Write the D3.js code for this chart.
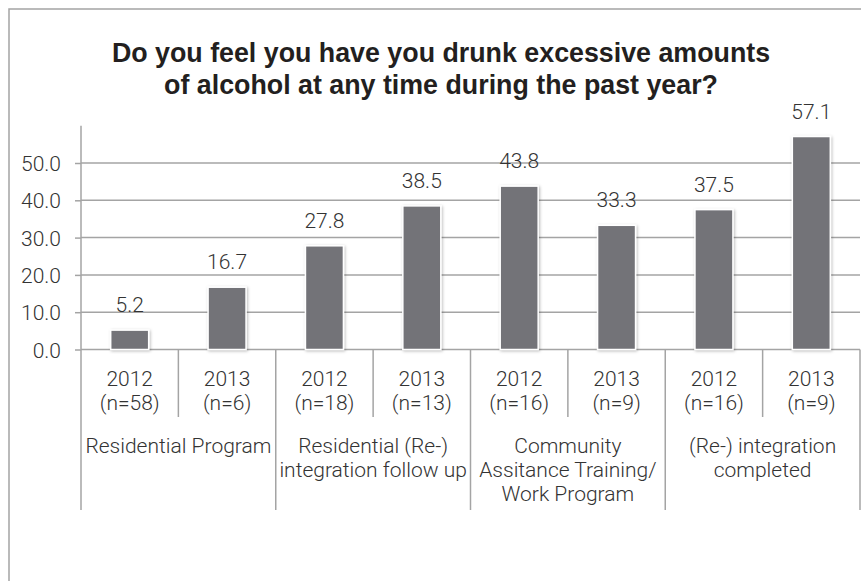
<!DOCTYPE html>
<html>
<head>
<meta charset="utf-8">
<script src="https://cdn.jsdelivr.net/npm/d3@7"></script>
<style>
  body { margin: 0; background: #fff; }
  svg { display: block; }
</style>
</head>
<body>
<script>
// Share of respondents (%) per programme and survey year
const years = ["2012", "2013", "2012", "2013", "2012", "2013", "2012", "2013"];
const sampleSizes = ["(n=58)", "(n=6)", "(n=18)", "(n=13)", "(n=16)", "(n=9)", "(n=16)", "(n=9)"];
const values = [5.2, 16.7, 27.8, 38.5, 43.8, 33.3, 37.5, 57.1];
const groupLabels = [
  ["Residential Program"],
  ["Residential (Re-)", "integration follow up"],
  ["Community", "Assitance Training/", "Work Program"],
  ["(Re-) integration", "completed"]
];
const yTicks = [0, 10, 20, 30, 40, 50];
const titleLines = [
  "Do you feel you have you drunk excessive amounts",
  "of alcohol at any time during the past year?"
];

const W = 861, H = 581;
const plotLeft = 81, plotRight = 860;
const lightFont = "Roboto, 'Liberation Sans', Arial, sans-serif";
const textColor = "#333";
const lineColor = "#a4a4a4";

const svg = d3.select("body").append("svg")
  .attr("width", W).attr("height", H);

const defs = svg.append("defs");
defs.append("filter")
  .attr("id", "barShadow")
  .attr("x", "-40%").attr("y", "-20%").attr("width", "180%").attr("height", "140%")
  .append("feDropShadow")
  .attr("dx", 1).attr("dy", 1).attr("stdDeviation", 1.6)
  .attr("flood-color", "#000").attr("flood-opacity", 0.28);

// chart frame (runs past the page edges on the right and bottom)
svg.append("rect")
  .attr("x", 9).attr("y", 9).attr("width", 900).attr("height", 620)
  .attr("fill", "none").attr("stroke", lineColor).attr("stroke-width", 1.5);

// title
svg.append("text")
  .attr("x", 441).attr("y", 62)
  .attr("text-anchor", "middle")
  .attr("font-family", "'Liberation Sans', Arial, sans-serif")
  .attr("font-weight", "bold")
  .attr("font-size", 26.8)
  .attr("fill", "#231f20")
  .selectAll("tspan").data(titleLines).join("tspan")
  .attr("x", 441).attr("dy", (d, i) => i === 0 ? 0 : 32)
  .text(d => d);

// scales
const y = d3.scaleLinear().domain([0, 60]).range([349.5, 125.7]);
const cells = d3.scaleBand().domain(d3.range(values.length)).range([plotLeft, plotRight]).padding(0);
const bars = d3.scaleBand().domain(d3.range(values.length)).range([plotLeft, plotRight])
  .paddingInner(0.61).paddingOuter(0.305);

// horizontal gridlines
svg.append("g").selectAll("line").data(yTicks).join("line")
  .attr("x1", plotLeft).attr("x2", plotRight)
  .attr("y1", d => y(d)).attr("y2", d => y(d))
  .attr("stroke", lineColor).attr("stroke-width", 1.5);

// value axis
const yAxis = d3.axisLeft(y).tickValues(yTicks).tickSize(6).tickPadding(14)
  .tickFormat(d3.format(".1f"));
const yg = svg.append("g").attr("transform", `translate(${plotLeft},0)`).call(yAxis);
yg.select(".domain").attr("stroke", lineColor).attr("stroke-width", 1.5)
  .attr("d", `M0,${y(60)}V${y(0)}`);
yg.selectAll(".tick line").attr("stroke", lineColor).attr("stroke-width", 1.5);
yg.selectAll(".tick text")
  .attr("font-family", lightFont).attr("font-weight", 300)
  .attr("font-size", 21).attr("fill", textColor).attr("dy", "0.36em");

// bars
svg.append("g").selectAll("rect").data(values).join("rect")
  .attr("x", (d, i) => bars(i))
  .attr("y", d => y(d))
  .attr("width", bars.bandwidth())
  .attr("height", d => y(0) - y(d))
  .attr("fill", "#737378")
  .attr("stroke", "#fff").attr("stroke-width", 1.5)
  .attr("filter", "url(#barShadow)");

// value labels
svg.append("g").selectAll("text").data(values).join("text")
  .attr("x", (d, i) => bars(i) + bars.bandwidth() / 2)
  .attr("y", d => y(d) - 17.8)
  .attr("text-anchor", "middle")
  .attr("font-family", lightFont).attr("font-weight", 300)
  .attr("font-size", 21).attr("fill", textColor)
  .text(d => d.toFixed(1));

// category axis: year and sample-size labels
const catG = svg.append("g");
catG.selectAll("text.year").data(years).join("text")
  .attr("class", "year")
  .attr("x", (d, i) => cells(i) + cells.bandwidth() / 2)
  .attr("y", 385.5)
  .attr("text-anchor", "middle")
  .attr("font-family", lightFont).attr("font-weight", 300)
  .attr("font-size", 21).attr("fill", textColor)
  .text(d => d);
catG.selectAll("text.n").data(sampleSizes).join("text")
  .attr("class", "n")
  .attr("x", (d, i) => cells(i) + cells.bandwidth() / 2)
  .attr("y", 409.5)
  .attr("text-anchor", "middle")
  .attr("font-family", lightFont).attr("font-weight", 300)
  .attr("font-size", 21).attr("fill", textColor)
  .text(d => d);

// separators: short ones between years, long ones between programmes
const boundaries = d3.range(values.length + 1);
catG.selectAll("line.sep").data(boundaries).join("line")
  .attr("class", "sep")
  .attr("x1", i => i === values.length ? plotRight : cells(i))
  .attr("x2", i => i === values.length ? plotRight : cells(i))
  .attr("y1", y(0))
  .attr("y2", i => i % 2 === 0 ? 510 : 417)
  .attr("stroke", lineColor).attr("stroke-width", 1.5);

// programme labels
const groupG = catG.selectAll("text.group").data(groupLabels).join("text")
  .attr("class", "group")
  .attr("text-anchor", "middle")
  .attr("font-family", lightFont).attr("font-weight", 300)
  .attr("font-size", 21).attr("fill", textColor)
  .attr("y", 452.5);
groupG.selectAll("tspan").data((d, gi) => d.map(t => ({ t, gi }))).join("tspan")
  .attr("x", d => cells(d.gi * 2) + cells.bandwidth())
  .attr("dy", (d, i) => i === 0 ? 0 : 24)
  .text(d => d.t);
</script>
</body>
</html>
